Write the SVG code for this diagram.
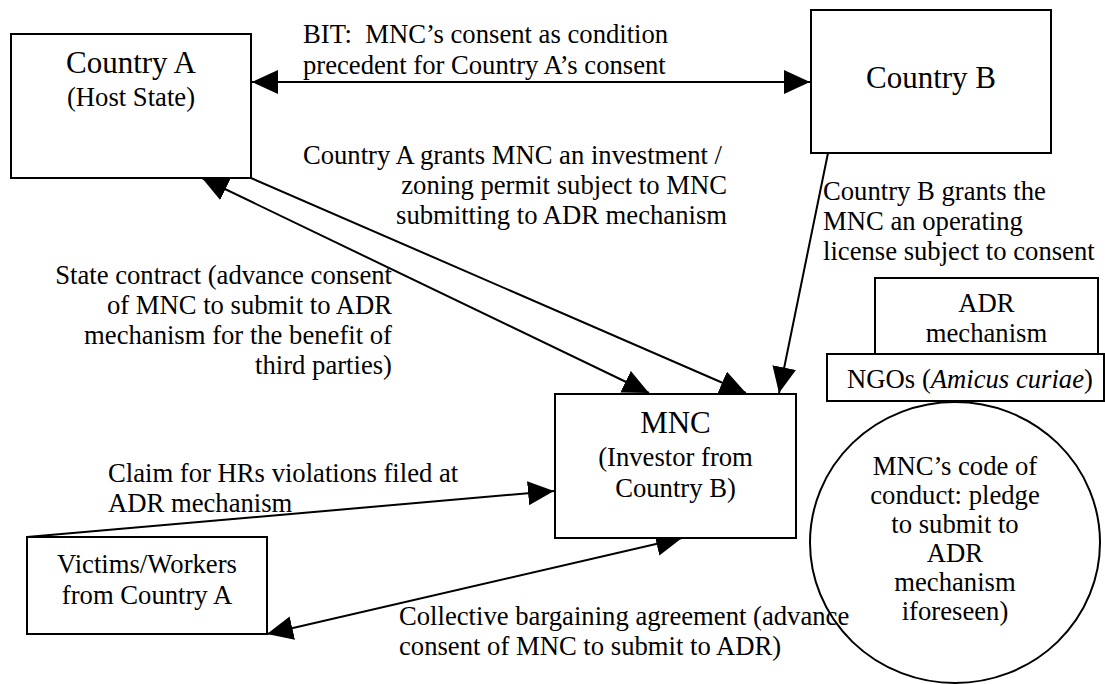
<svg xmlns="http://www.w3.org/2000/svg" width="1105" height="684" viewBox="0 0 1105 684" font-family="'Liberation Serif', Tinos, 'Times New Roman', 'DejaVu Serif', serif">
<style>
  text { font-family: 'Liberation Serif', Tinos, 'Times New Roman', 'DejaVu Serif', serif; fill: #000; }
  .lbl { font-size: 26.67px; }
  .ttl { font-size: 31px; }
  .c { text-anchor: middle; }
  .r { text-anchor: end; }
  .box { fill: #fff; stroke: #000; stroke-width: 2; }
  .conn { stroke: #000; stroke-width: 2; fill: none; }
</style>
<defs>
  <marker id="arr" markerUnits="userSpaceOnUse" markerWidth="26" markerHeight="24" refX="26" refY="12" orient="auto-start-reverse" viewBox="0 0 26 24">
    <path d="M0,0 L26,12 L0,24 z" fill="#000"/>
  </marker>
</defs>
<rect width="1105" height="684" fill="#fff"/>

<g id="connectors">
  <line class="conn" x1="252" y1="82" x2="810" y2="82" marker-start="url(#arr)" marker-end="url(#arr)"/>
  <line class="conn" x1="202" y1="178" x2="649" y2="393" marker-start="url(#arr)" marker-end="url(#arr)"/>
  <line class="conn" x1="251" y1="178" x2="746" y2="393" marker-end="url(#arr)"/>
  <line class="conn" x1="828" y1="153" x2="779" y2="393" marker-end="url(#arr)"/>
  <line class="conn" x1="27" y1="537" x2="554" y2="491" marker-end="url(#arr)"/>
  <line class="conn" x1="267" y1="634" x2="682" y2="538" marker-start="url(#arr)" marker-end="url(#arr)"/>
</g>

<g id="labels">
  <text class="lbl" x="303" y="43" xml:space="preserve">BIT:  MNC’s consent as condition</text>
  <text class="lbl" x="303" y="74">precedent for Country A’s consent</text>
  <text class="lbl r" x="722" y="164">Country A grants MNC an investment /</text>
  <text class="lbl r" x="727" y="194">zoning permit subject to MNC</text>
  <text class="lbl r" x="727" y="224">submitting to ADR mechanism</text>
  <text class="lbl" x="823" y="200">Country B grants the</text>
  <text class="lbl" x="823" y="230">MNC an operating</text>
  <text class="lbl" x="823" y="260">license subject to consent</text>
  <text class="lbl r" x="392" y="284">State contract (advance consent</text>
  <text class="lbl r" x="392" y="314">of MNC to submit to ADR</text>
  <text class="lbl r" x="392" y="344">mechanism for the benefit of</text>
  <text class="lbl r" x="392" y="374">third parties)</text>
  <text class="lbl" x="108" y="482">Claim for HRs violations filed at</text>
  <text class="lbl" x="108" y="512">ADR mechanism</text>
  <text class="lbl" x="399" y="625">Collective bargaining agreement (advance</text>
  <text class="lbl" x="399" y="655">consent of MNC to submit to ADR)</text>
</g>

<g id="countryA">
  <rect class="box" x="11" y="34" width="240" height="144"/>
  <text class="ttl c" x="131" y="73">Country A</text>
  <text class="lbl c" x="131" y="106">(Host State)</text>
</g>

<g id="countryB">
  <rect class="box" x="811" y="10" width="240" height="143"/>
  <text class="ttl c" x="931" y="88">Country B</text>
</g>

<g id="mnc">
  <rect class="box" x="555" y="394" width="241" height="144"/>
  <text class="ttl c" x="675.5" y="433">MNC</text>
  <text class="lbl c" x="675.5" y="466">(Investor from</text>
  <text class="lbl c" x="675.5" y="497">Country B)</text>
</g>

<g id="victims">
  <rect class="box" x="27" y="537" width="240" height="97"/>
  <text class="lbl c" x="147" y="573">Victims/Workers</text>
  <text class="lbl c" x="147" y="604">from Country A</text>
</g>

<g id="adr">
  <rect class="box" x="875" y="278" width="223" height="76"/>
  <text class="lbl c" x="986.5" y="312">ADR</text>
  <text class="lbl c" x="986.5" y="342">mechanism</text>
</g>

<g id="ngos">
  <rect class="box" x="827" y="354" width="277" height="47"/>
  <text class="lbl c" x="970" y="388">NGOs (<tspan font-style="italic">Amicus curiae</tspan>)</text>
</g>

<g id="codeOfConduct">
  <ellipse cx="955" cy="542.5" rx="145" ry="140.5" fill="none" stroke="#000" stroke-width="2"/>
  <text class="lbl c" x="955" y="475">MNC’s code of</text>
  <text class="lbl c" x="955" y="504">conduct: pledge</text>
  <text class="lbl c" x="955" y="533">to submit to</text>
  <text class="lbl c" x="955" y="562">ADR</text>
  <text class="lbl c" x="955" y="591">mechanism</text>
  <text class="lbl c" x="955" y="620">iforeseen)</text>
</g>
</svg>
